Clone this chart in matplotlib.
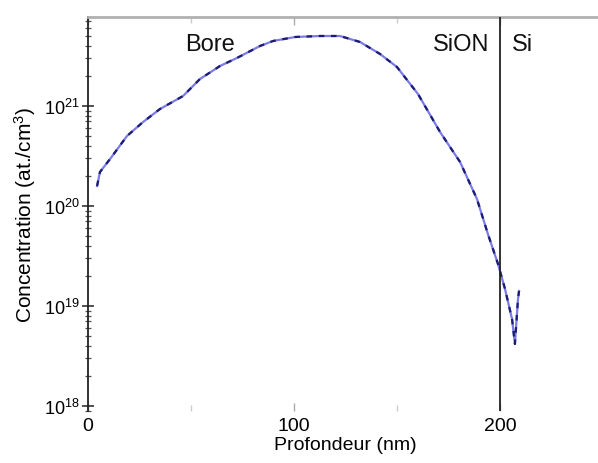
import matplotlib
matplotlib.use("Agg")
import matplotlib.pyplot as plt
import numpy as np
from matplotlib.ticker import LogLocator, FixedLocator, NullFormatter

plt.rcParams['font.family'] = ['Liberation Sans', 'DejaVu Sans']
plt.rcParams['mathtext.fontset'] = 'custom'
plt.rcParams['mathtext.rm'] = 'Liberation Sans'
plt.rcParams['mathtext.it'] = 'Liberation Sans:italic'

# Depth (nm) and log10 of boron concentration (at./cm3)
depth = [4.4, 5.8, 10.7, 18.9, 26.7, 34.9, 46.1, 54.3, 64.0, 72.2, 83.4, 89.7,
         100.4, 112.5, 122.2, 131.9, 141.6, 149.8, 160.0, 170.7, 180.4, 188.6,
         193.9, 198.8, 202.2, 205.6, 207.0, 208.5, 209.0]
log_conc = [20.20, 20.34, 20.47, 20.70, 20.84, 20.97, 21.10, 21.27, 21.40, 21.48,
            21.60, 21.65, 21.69, 21.70, 21.70, 21.64, 21.52, 21.39, 21.12, 20.74,
            20.44, 20.07, 19.72, 19.42, 19.17, 18.87, 18.62, 19.07, 19.15]
interface = 200
x_ticks = [0, 100, 200]
labels = {"Bore": (59, 21.62), "SiON": (181, 21.62), "Si": (210.5, 21.62)}

conc = 10 ** np.array(log_conc)

fig = plt.figure(figsize=(5.98, 4.64), dpi=100)
ax = fig.add_axes([88/598, 1-412/464, 515.6/598, 394/464])

ax.plot(depth, conc, color='#7a7ae8', lw=1.6, zorder=2)
ax.plot(depth, conc, color='#1c1c70', lw=1.6, dashes=(2.5, 3), zorder=3)
ax.axvline(interface, color='#222222', lw=1.3, zorder=4)

ax.set_yscale('log')
ax.set_ylim(10**17.95, 10**21.89)
ax.set_xlim(0, 250)

ax.yaxis.set_major_locator(LogLocator(base=10, numticks=10))
ax.yaxis.set_minor_locator(LogLocator(base=10, subs=np.arange(2, 10), numticks=100))
ax.yaxis.set_minor_formatter(NullFormatter())
ax.set_xticks(x_ticks)
ax.xaxis.set_minor_locator(FixedLocator([50, 150]))

ax.spines['left'].set_color('#222222')
ax.spines['left'].set_linewidth(1.3)
ax.spines['top'].set_color('#b0b0b0')
ax.spines['top'].set_linewidth(2.0)
ax.spines['bottom'].set_visible(False)
ax.spines['right'].set_color('#cccccc')

ax.tick_params(axis='y', which='major', direction='inout', length=8, width=1.2,
               labelsize=13, left=True, right=True, color='#333333', pad=2)
ax.tick_params(axis='y', which='minor', direction='inout', length=5, width=0.9,
               left=True, right=True, color='#555555')
ax.tick_params(axis='x', which='major', direction='in', length=6, width=1,
               labelsize=14, top=True, bottom=True, color='#aaaaaa', pad=4)
ax.tick_params(axis='x', which='minor', direction='in', length=4, width=1,
               top=True, bottom=True, color='#cccccc')

for txt, (xx, yy) in labels.items():
    ax.text(xx, 10**yy, txt, fontsize=17, ha='center', va='center', color='#111111')

ax.set_xlabel('Profondeur (nm)', fontsize=14, labelpad=2)
ax.set_ylabel('Concentration (at./cm$^3$)', fontsize=15, labelpad=4)

fig.savefig('out.png', dpi=100)
